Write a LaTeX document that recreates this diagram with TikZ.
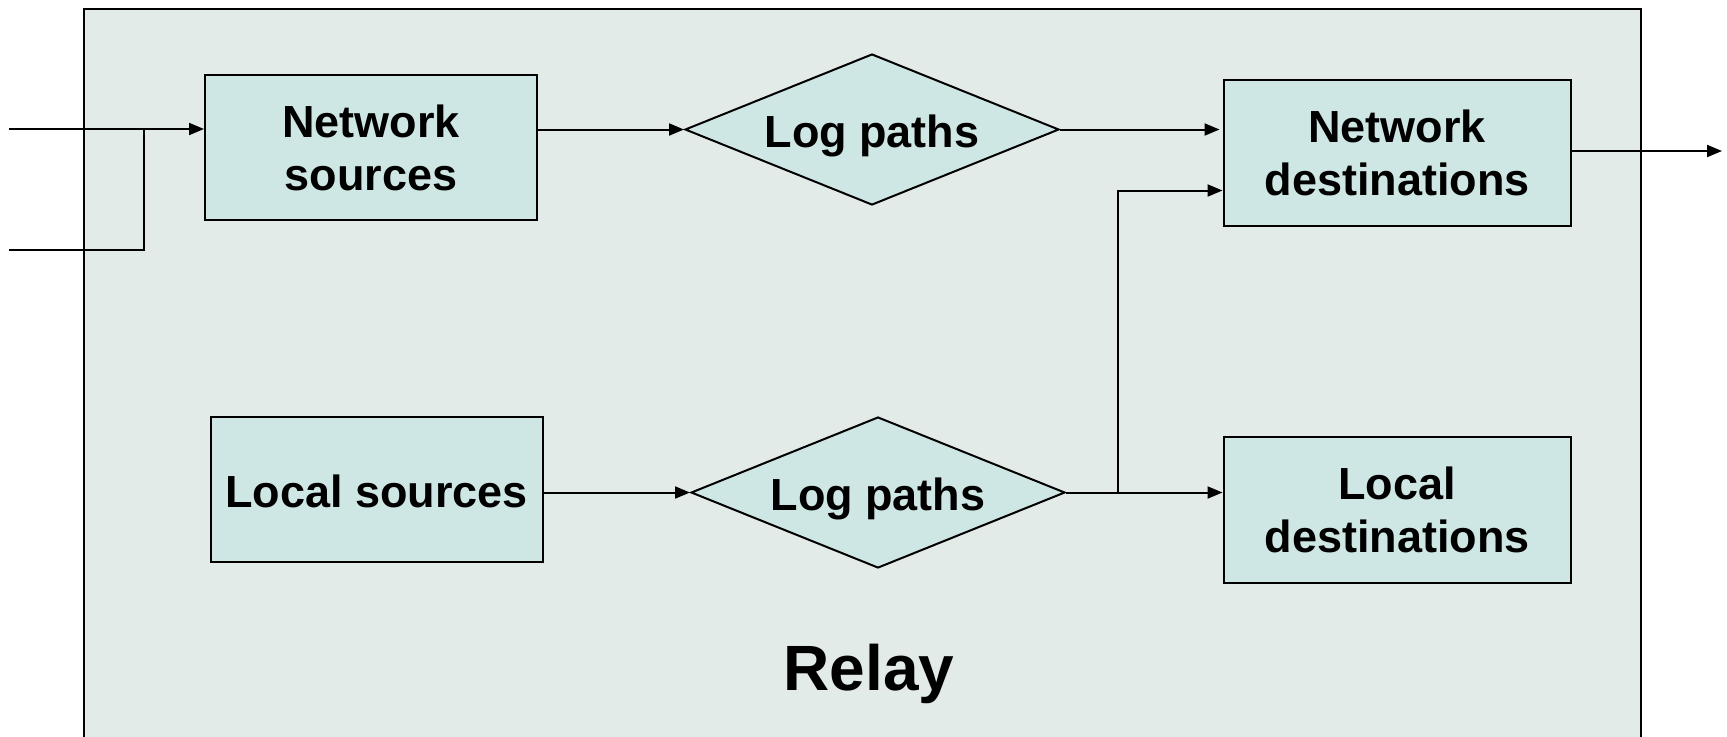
\documentclass[tikz,border=0pt]{standalone}
\usepackage{fontspec}
\setmainfont{Liberation Sans}
\usepackage{xcolor}
\usepackage{tikz}
\usetikzlibrary{positioning,calc,shapes.geometric,arrows.meta}
\definecolor{fondrelais}{RGB}{227,235,232}
\definecolor{fondbloc}{RGB}{207,231,228}

\begin{document}
\begin{tikzpicture}[x=0.5pt,y=-0.5pt]

\tikzstyle{bloc}=[rectangle, draw, line width=1pt, fill=fondbloc, align=center, font=\bfseries\fontsize{22.5}{26.5}\selectfont, execute at begin node={\rule{0pt}{19pt}}]
\tikzstyle{source}=[bloc, minimum width=166pt, minimum height=72.5pt]
\tikzstyle{dest}=[bloc, minimum width=173.5pt, minimum height=72.7pt]
\tikzstyle{chemin}=[diamond, aspect=2.5, draw, line width=1pt, fill=fondbloc, inner sep=1pt, minimum width=187pt, minimum height=75.5pt, font=\bfseries\fontsize{22.5}{26.5}\selectfont, execute at begin node={\rule{0pt}{22.5pt}}]
\tikzstyle{suite}=[line width=1pt, -{Triangle[length=7.5pt,width=6pt]}]
\tikzstyle{trait}=[line width=1pt]

%cadre du relais
\useasboundingbox (0,0) rectangle (1727,736);
\clip (0,0) rectangle (1727,736);
\draw[trait, fill=fondrelais] (84,9) rectangle (1641,770);
\node[font=\bfseries\fontsize{32}{38}\selectfont, anchor=base] (relay) at (869,690) {Relay};

%placement des nœuds
\node[source] (netsrc) at (371,147.5) {Network\\sources};
\node[chemin] (logtop) at (872,129.5) {Log paths};
\node[dest] (netdst) at (1397,153) {Network\\destinations};
\node[source] (locsrc) at (376.5,489) {Local sources};
\node[chemin] (logbot) at (878,492.5) {Log paths};
\node[dest] (locdst) at (1397,510) {Local\\destinations};

\coordinate (in1) at (9,129);
\coordinate (in2) at (9,250);
\coordinate (join) at (144,129);
\coordinate (split) at (1118,492.5);
\coordinate (branch) at (1118,190.5);
\coordinate (out) at (1722,151);

%placement des flèches
\draw[suite] (in1) -- (in1 -| netsrc.west);
\draw[trait] (in2) -| (join);
\draw[suite] (logtop.west -| netsrc.east) -- (logtop.west);
\draw[suite] (logtop.east) -- ($(logtop.east -| netdst.west)+(-3,0)$);
\draw[suite] (locsrc.east |- logbot.west) -- (logbot.west);
\draw[suite] (logbot.east) -- (logbot.east -| locdst.west);
\draw[suite] (split) -- (branch) -- (branch -| netdst.west);
\draw[suite] (netdst.east |- out) -- (out);
\end{tikzpicture}
\end{document}
